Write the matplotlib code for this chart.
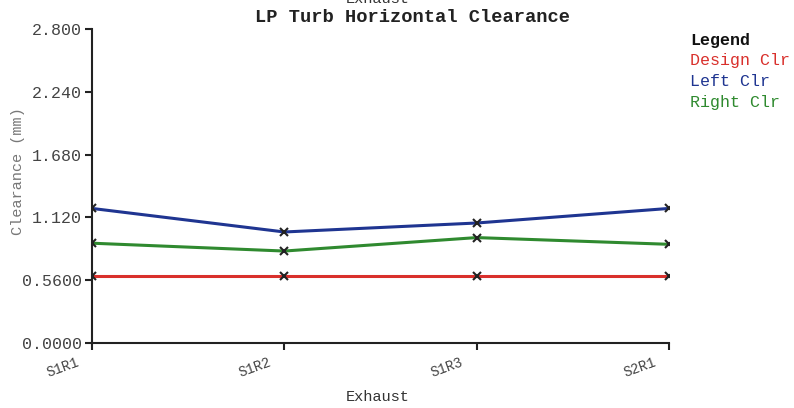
import numpy as np
import matplotlib.pyplot as plt
import matplotlib.transforms as mtransforms

positions = ["S1R1", "S1R2", "S1R3", "S2R1"]
design_clr = [0.60, 0.60, 0.60, 0.60]
left_clr = [1.20, 0.99, 1.07, 1.20]
right_clr = [0.89, 0.82, 0.94, 0.88]
y_ticks = [0.0, 0.56, 1.12, 1.68, 2.24, 2.80]
y_tick_labels = ["0.0000", "0.5600", "1.120", "1.680", "2.240", "2.800"]

plt.rcParams["font.family"] = ["Liberation Mono", "DejaVu Sans Mono"]

fig = plt.figure(figsize=(7.94, 4.08), dpi=100)
ax = fig.add_axes([92 / 794, 1 - 343 / 408, (669 - 92) / 794, (343 - 29) / 408])

x = np.arange(len(positions))
series = [
    ("Design Clr", design_clr, "#d9302c"),
    ("Left Clr", left_clr, "#1f3591"),
    ("Right Clr", right_clr, "#2f8a2f"),
]
for name, vals, col in series:
    ax.plot(x, vals, color=col, lw=2.2, marker="x", ms=6, mec="#222222", mew=1.5)

ax.set_xlim(0, len(positions) - 1)
ax.set_ylim(0, 2.8)
ax.set_yticks(y_ticks)
ax.set_yticklabels(y_tick_labels, color="#444444", fontsize=12)
ax.set_xticks(x)
ax.set_xticklabels([])
# tick labels sit left of their tick, slanted
shift = mtransforms.ScaledTranslation(-16 / 100, -12 / 100, fig.dpi_scale_trans)
for xi, name in zip(x, positions):
    ax.text(xi, 0, name, transform=ax.get_xaxis_transform() + shift,
            rotation=20, ha="right", va="top", rotation_mode="anchor",
            fontsize=10, color="#444444")
ax.tick_params(axis="both", direction="out", length=5, width=1.5, color="#222222")
ax.tick_params(axis="y", pad=2)
for s in ["top", "right"]:
    ax.spines[s].set_visible(False)
for s in ["left", "bottom"]:
    ax.spines[s].set_linewidth(1.5)
    ax.spines[s].set_color("#222222")
ax.patch.set_visible(False)

fig.text(378 / 794, 1 - 397 / 408, "Exhaust", ha="center", va="center",
         fontsize=11, color="#333333")
fig.text(18 / 794, 1 - 171 / 408, "Clearance (mm)", rotation=90, ha="center",
         va="center", fontsize=11, color="#777777")
fig.text(412 / 794, 1 - 18 / 408, "LP Turb Horizontal Clearance", ha="center",
         va="center", fontsize=13.5, fontweight="bold", color="#222222")
fig.text(378 / 794, 1 + 1 / 408, "Exhaust", ha="center", va="center",
         fontsize=11, color="#333333")

fig.text(690 / 794, 1 - 40 / 408, "Legend", ha="left", va="center",
         fontsize=12, fontweight="bold", color="#111111")
for i, (name, vals, col) in enumerate(series):
    fig.text(690 / 794, 1 - (61 + 21 * i) / 408, name, ha="left", va="center",
             fontsize=12, color=col)

fig.savefig("out.png", dpi=100, facecolor="white")
